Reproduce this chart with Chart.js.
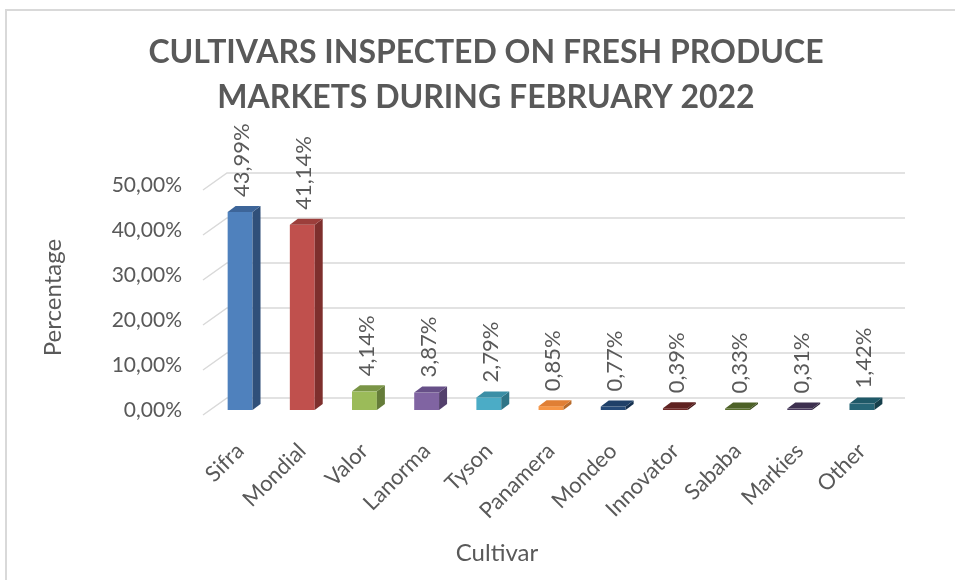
<!DOCTYPE html>
<html>
<head>
<meta charset="utf-8">
<script src="https://cdn.jsdelivr.net/npm/chart.js@4.4.0/dist/chart.umd.min.js"></script>
<style>
html, body { margin: 0; padding: 0; background: #fff; }
#wrap { position: relative; width: 955px; height: 580px; overflow: hidden; }
#frame { position: absolute; left: 5px; top: 9px; width: 960px; height: 600px;
         border-left: 2px solid #d9d9d9; border-top: 2px solid #d9d9d9; }
canvas { position: absolute; left: 0; top: 0; }
</style>
</head>
<body>
<div id="wrap">
  <div id="frame"></div>
  <canvas id="cultivarChart" width="955" height="580"></canvas>
</div>
<script>
// Chart data
const titleLines = ['CULTIVARS INSPECTED ON FRESH PRODUCE', 'MARKETS DURING FEBRUARY 2022'];
const cultivars = ['Sifra', 'Mondial', 'Valor', 'Lanorma', 'Tyson', 'Panamera', 'Mondeo', 'Innovator', 'Sababa', 'Markies', 'Other'];
const percentages = [43.99, 41.14, 4.14, 3.87, 2.79, 0.85, 0.77, 0.39, 0.33, 0.31, 1.42];
const yTicks = [0, 10, 20, 30, 40, 50];

// Bar face colours (front / side / top)
const frontColors = ['#4f81bd', '#c0504d', '#9bbb59', '#8064a2', '#4bacc6', '#f79646', '#254a78', '#702a28', '#5a6f2d', '#49395d', '#266576'];
const sideColors  = ['#30507a', '#7e2f2d', '#657c39', '#53406c', '#2f7587', '#b66a2b', '#15304f', '#461918', '#39481c', '#2c2339', '#163f4b'];
const topColors   = ['#3d6599', '#9c3e3b', '#7a9546', '#675088', '#3b8fa6', '#e07f35', '#1f4068', '#5f2221', '#4d6127', '#3d304f', '#1f5968'];

const textColor = '#595959';
const fontFamily = "Lato, 'Open Sans', sans-serif";

function formatPercent(v) {
    return v.toFixed(2).replace('.', ',') + '%';
}

// Fake 3D: back grid, side/top faces, labels and titles
const bar3d = {
    id: 'bar3d',
    beforeDatasetsDraw(chart) {
        const ctx = chart.ctx;
        const area = chart.chartArea;
        const y = chart.scales.y;
        ctx.save();
        ctx.strokeStyle = '#d9d9d9';
        ctx.lineWidth = 1.5;
        yTicks.forEach(t => {
            const py = y.getPixelForValue(t);
            ctx.beginPath();
            ctx.moveTo(area.left - 6, py + 5);
            ctx.lineTo(area.left + 18, py - 12);
            ctx.lineTo(area.right + 12, py - 12);
            ctx.stroke();
        });
        ctx.restore();
    },
    afterDatasetsDraw(chart) {
        const ctx = chart.ctx;
        const meta = chart.getDatasetMeta(0);
        const dx = 8, dy = 6;
        ctx.save();
        meta.data.forEach((bar, i) => {
            const half = bar.width / 2;
            const l = bar.x - half, r = bar.x + half;
            // side face
            ctx.fillStyle = sideColors[i];
            ctx.beginPath();
            ctx.moveTo(r, bar.y);
            ctx.lineTo(r + dx, bar.y - dy);
            ctx.lineTo(r + dx, bar.base - dy);
            ctx.lineTo(r, bar.base);
            ctx.closePath();
            ctx.fill();
            // top face
            ctx.fillStyle = topColors[i];
            ctx.beginPath();
            ctx.moveTo(l, bar.y);
            ctx.lineTo(l + dx, bar.y - dy);
            ctx.lineTo(r + dx, bar.y - dy);
            ctx.lineTo(r, bar.y);
            ctx.closePath();
            ctx.fill();
        });

        // value labels, rotated
        ctx.fillStyle = textColor;
        ctx.font = '22px ' + fontFamily;
        ctx.textAlign = 'left';
        ctx.textBaseline = 'middle';
        meta.data.forEach((bar, i) => {
            ctx.save();
            ctx.translate(bar.x + 2, bar.y - 15);
            ctx.rotate(-Math.PI / 2);
            ctx.fillText(formatPercent(percentages[i]), 0, 0);
            ctx.restore();
        });

        // chart title
        ctx.font = 'bold 32px ' + fontFamily;
        ctx.textAlign = 'center';
        ctx.fillText(titleLines[0], 486, 53);
        ctx.fillText(titleLines[1], 486, 98);

        // x axis title
        ctx.font = '24px ' + fontFamily;
        ctx.fillText('Cultivar', 497, 553);
        ctx.restore();
    }
};

const ctx = document.getElementById('cultivarChart');
new Chart(ctx, {
    type: 'bar',
    data: {
        labels: cultivars,
        datasets: [{
            data: percentages,
            backgroundColor: frontColors,
            borderWidth: 0,
            categoryPercentage: 0.8,
            barPercentage: 0.5
        }]
    },
    options: {
        responsive: false,
        animation: false,
        layout: {
            padding: { top: 185, right: 62, bottom: 0, left: 0 }
        },
        plugins: {
            legend: { display: false },
            tooltip: { enabled: false }
        },
        scales: {
            x: {
                grid: { display: false },
                border: { display: false },
                ticks: {
                    color: textColor,
                    font: { family: fontFamily, size: 22 },
                    maxRotation: 45,
                    minRotation: 45,
                    autoSkip: false,
                    padding: 20
                },
                afterFit: function(scale) {
                    scale.height = 170;
                }
            },
            y: {
                min: 0,
                max: 50,
                grid: { display: false },
                border: { display: false },
                ticks: {
                    stepSize: 10,
                    color: textColor,
                    font: { family: fontFamily, size: 21 },
                    padding: 19,
                    callback: function(value) {
                        return formatPercent(value);
                    }
                },
                title: {
                    display: true,
                    text: 'Percentage',
                    color: textColor,
                    font: { family: fontFamily, size: 24 },
                    padding: { top: 39, bottom: 0 }
                },
                afterFit: function(scale) {
                    scale.width = 209;
                }
            }
        }
    },
    plugins: [bar3d]
});
</script>
</body>
</html>
